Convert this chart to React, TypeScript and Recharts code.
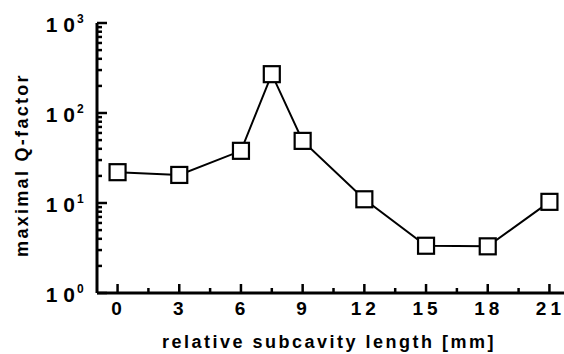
import React from "react";
import { LineChart, Line, XAxis, YAxis } from "recharts";

// subcavity length (mm) vs maximal Q-factor
const lengths = [0, 3, 6, 7.5, 9, 12, 15, 18, 21];
const qFactors = [22, 20.5, 38, 270, 49, 11, 3.35, 3.3, 10.3];

const xTicks = [0, 1.5, 3, 4.5, 6, 7.5, 9, 10.5, 12, 13.5, 15, 16.5, 18, 19.5, 21];
const yTicks = [
  1, 2, 3, 4, 5, 6, 7, 8, 9,
  10, 20, 30, 40, 50, 60, 70, 80, 90,
  100, 200, 300, 400, 500, 600, 700, 800, 900,
  1000,
];

const FONT = "'Liberation Sans', Arial, Helvetica, sans-serif";

const data = lengths.map((x, i) => ({ x, q: qFactors[i] }));

const isMajorX = (v: number) => v % 3 === 0;
const isMajorY = (v: number) => [1, 10, 100, 1000].includes(v);

const BottomTick = (props: any) => {
  const { x, y, payload } = props;
  const v = payload.value;
  const major = isMajorX(v);
  return (
    <g>
      <line x1={x} x2={x} y1={y} y2={y - (major ? 9 : 5)} stroke="#000" strokeWidth={2.5} />
      {major && (
        <text
          x={x + 1}
          y={y + 22}
          textAnchor="middle"
          fontFamily={FONT}
          fontWeight="bold"
          fontSize={19}
          letterSpacing={4}
          fill="#000"
        >
          {v}
        </text>
      )}
    </g>
  );
};

const TopTick = (props: any) => {
  const { x, y, payload } = props;
  const major = isMajorX(payload.value);
  return <line x1={x} x2={x} y1={y} y2={y + (major ? 9 : 5)} stroke="#000" strokeWidth={2.5} />;
};

const LeftTick = (props: any) => {
  const { x, y, payload } = props;
  const v = payload.value;
  const major = isMajorY(v);
  return (
    <g>
      <line x1={x} x2={x + (major ? 10 : 5)} y1={y} y2={y} stroke="#000" strokeWidth={2.5} />
      {major && (
        <g fontFamily={FONT} fontWeight="bold" fill="#000">
          <text x={x - 22} y={y + 9} textAnchor="end" fontSize={21}>
            <tspan>1</tspan>
            <tspan dx={6}>0</tspan>
          </text>
          <text x={x - 20} y={y} textAnchor="start" fontSize={12}>
            {Math.round(Math.log10(v))}
          </text>
        </g>
      )}
    </g>
  );
};

const RightTick = (props: any) => {
  const { x, y, payload } = props;
  const major = isMajorY(payload.value);
  return <line x1={x} x2={x - (major ? 10 : 5)} y1={y} y2={y} stroke="#000" strokeWidth={2.5} />;
};

const SquareDot = (props: any) => {
  const { cx, cy } = props;
  if (cx == null || cy == null) return null;
  return <rect x={cx - 8} y={cy - 8} width={16} height={16} fill="#fff" stroke="#000" strokeWidth={2.2} />;
};

const XTitle = () => (
  <text
    x={329}
    y={348}
    textAnchor="middle"
    fontFamily={FONT}
    fontWeight="bold"
    fontSize={18}
    letterSpacing={2.5}
    fill="#000"
  >
    relative subcavity length [mm]
  </text>
);

const YTitle = () => (
  <text
    x={0}
    y={0}
    transform="translate(28,165) rotate(-90)"
    textAnchor="middle"
    fontFamily={FONT}
    fontWeight="bold"
    fontSize={18}
    letterSpacing={2.3}
    fill="#000"
  >
    maximal Q-factor
  </text>
);

export default function App() {
  return (
    <div style={{ position: "absolute", left: 0, top: 0, width: 564, height: 354, overflow: "hidden", background: "#fff" }}>
      <LineChart width={574} height={354} data={data} margin={{ top: 23, right: 4, bottom: 11, left: 0 }}>
        <XAxis
          xAxisId="bottom"
          dataKey="x"
          type="number"
          domain={[-1, 22]}
          ticks={xTicks}
          interval={0}
          tickSize={0}
          tickMargin={0}
          height={50}
          tick={<BottomTick />}
          axisLine={{ stroke: "#000", strokeWidth: 3 }}
          label={<XTitle />}
        />
        <XAxis
          xAxisId="top"
          orientation="top"
          dataKey="x"
          type="number"
          domain={[-1, 22]}
          ticks={xTicks}
          interval={0}
          tickSize={0}
          tickMargin={0}
          height={0}
          tick={<TopTick />}
          axisLine={{ stroke: "#000", strokeWidth: 3 }}
        />
        <YAxis
          yAxisId="left"
          scale="log"
          domain={[1, 1000]}
          ticks={yTicks}
          interval={0}
          tickSize={0}
          tickMargin={0}
          width={97}
          tick={<LeftTick />}
          axisLine={{ stroke: "#000", strokeWidth: 3 }}
          label={<YTitle />}
        />
        <YAxis
          yAxisId="right"
          orientation="right"
          scale="log"
          domain={[1, 1000]}
          ticks={yTicks}
          interval={0}
          tickSize={0}
          tickMargin={0}
          width={0}
          tick={<RightTick />}
          axisLine={{ stroke: "#000", strokeWidth: 3 }}
        />
        <Line
          xAxisId="bottom"
          yAxisId="left"
          dataKey="q"
          type="linear"
          stroke="#000"
          strokeWidth={2}
          dot={<SquareDot />}
          activeDot={false}
          isAnimationActive={false}
        />
      </LineChart>
    </div>
  );
}
